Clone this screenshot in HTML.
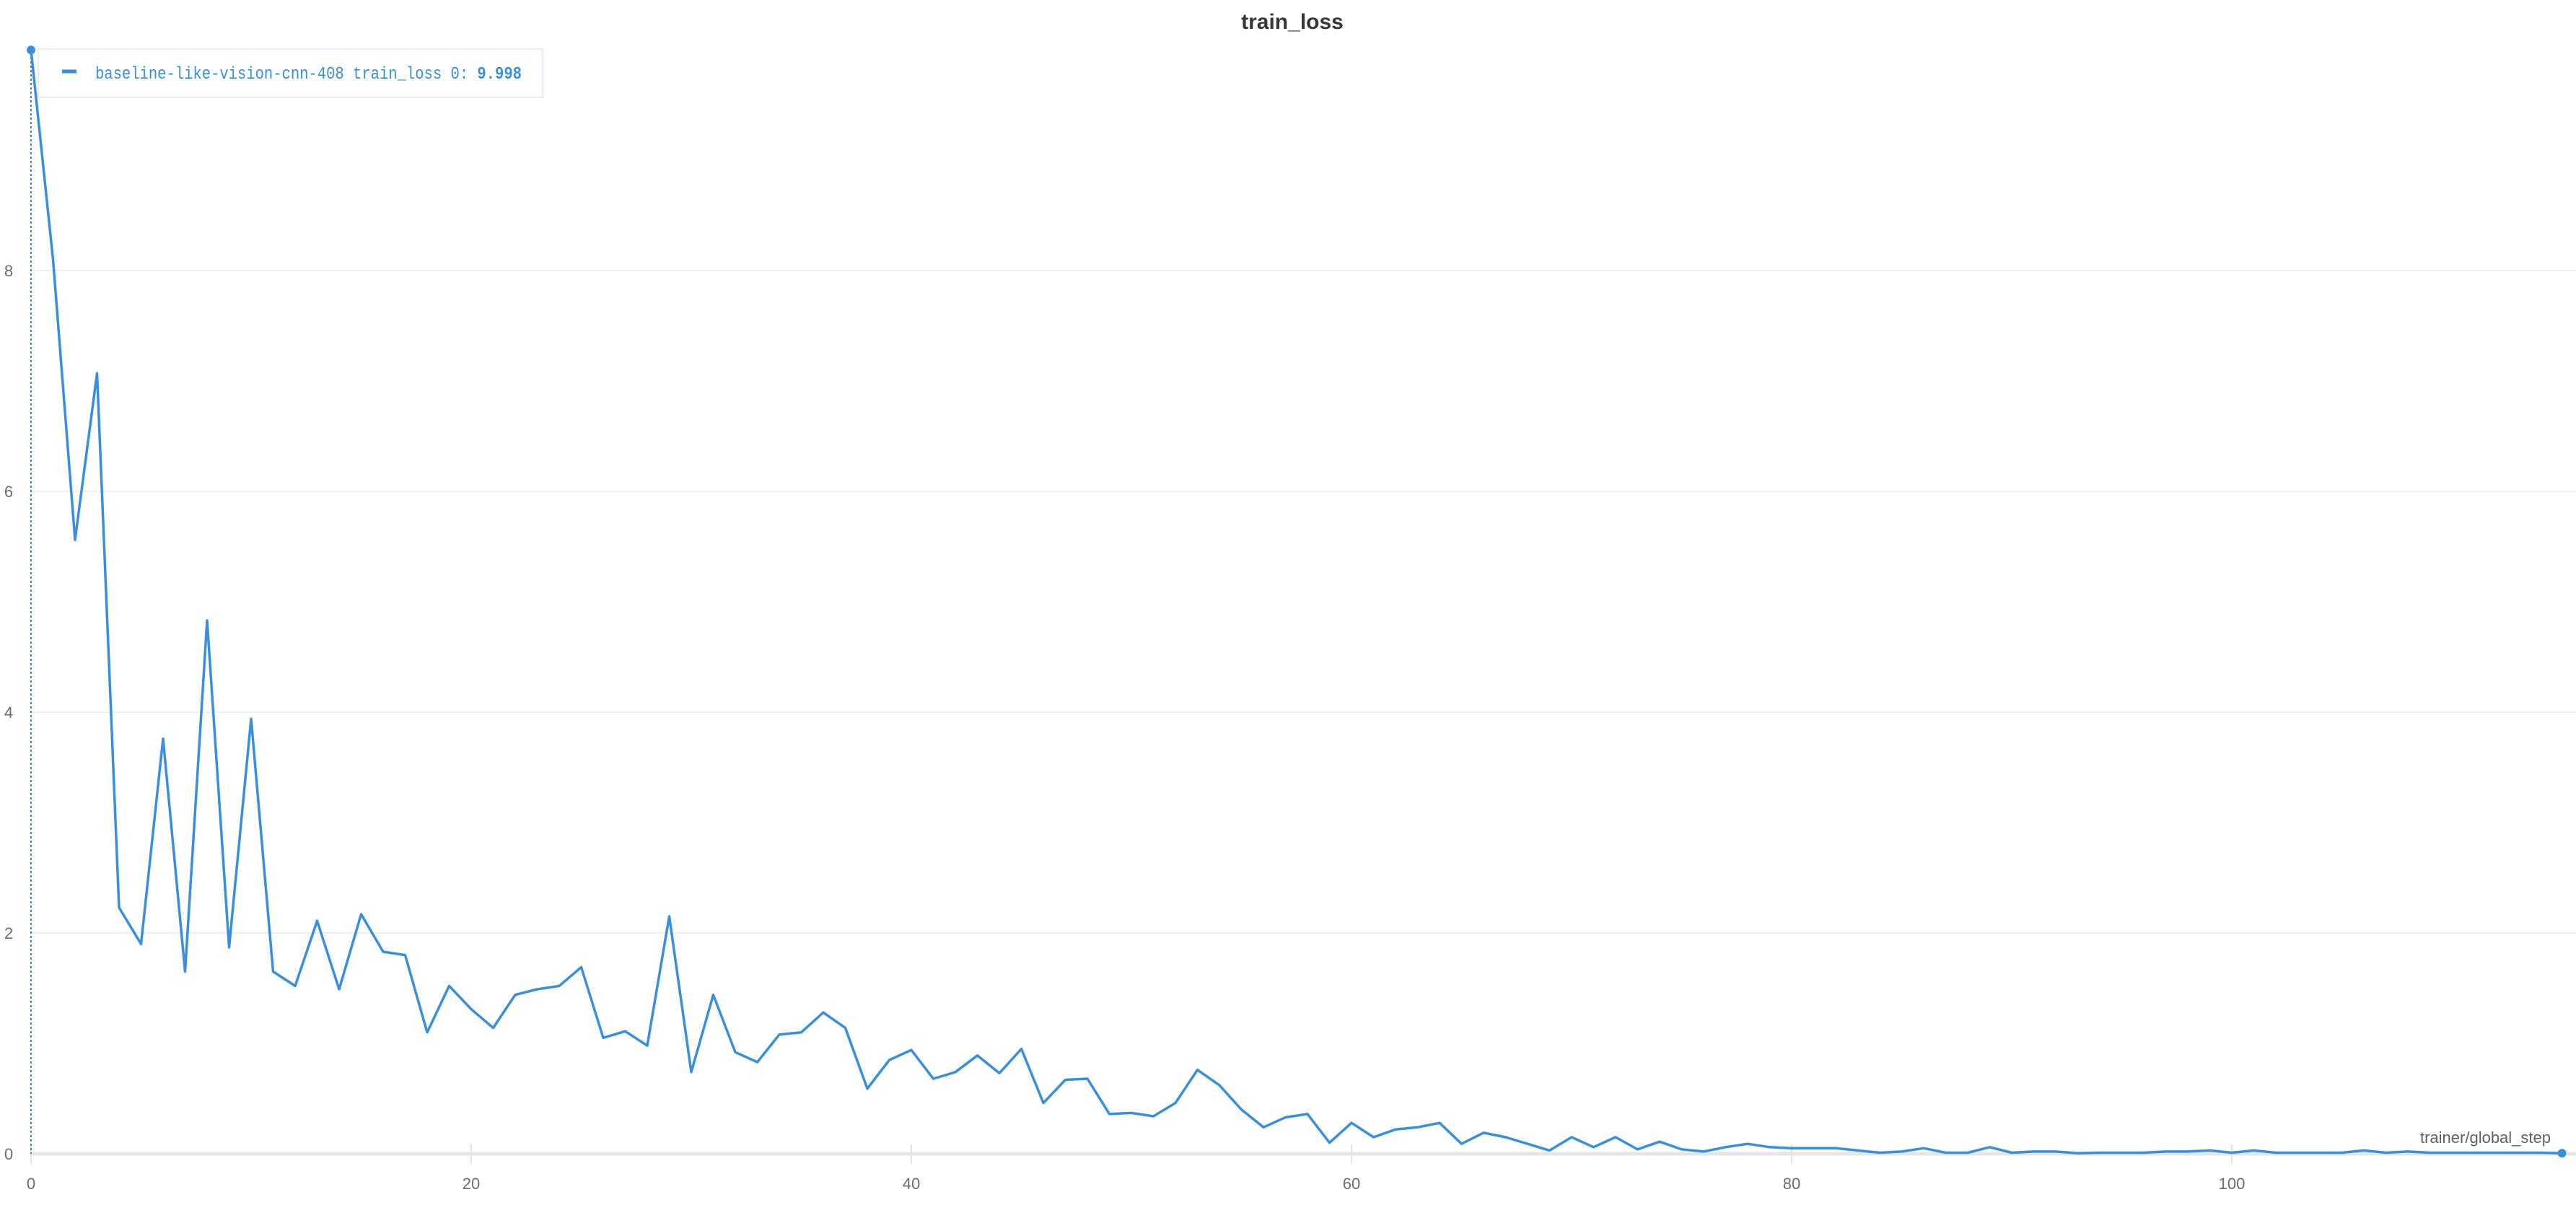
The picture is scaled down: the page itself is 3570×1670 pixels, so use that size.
<!DOCTYPE html>
<html><head><meta charset="utf-8"><style>
html,body{margin:0;padding:0;background:#fff;}
svg{display:block;}
</style></head><body>
<svg id="chart" width="3570" height="1670" xmlns="http://www.w3.org/2000/svg">
<text x="1791" y="40" text-anchor="middle" font-family="Liberation Sans, sans-serif" font-weight="bold" font-size="30" fill="#35363b">train_loss</text>
<g id="grid"></g>
<g id="ticks"></g>
<line x1="43" y1="67" x2="43" y2="1599" stroke="#2f86d8" stroke-width="2" stroke-dasharray="3,3"/>
<path id="series" fill="none" stroke="#378fdd" stroke-width="3.5" stroke-linejoin="round"/>
<g id="pts"></g>
<text x="3535" y="1584" text-anchor="end" font-family="Liberation Sans, sans-serif" font-size="22" fill="#5f5f6a">trainer/global_step</text>
<g>
<rect x="53" y="68" width="699" height="67" fill="#fff" stroke="#ebebeb" stroke-width="2"/>
<line x1="86" y1="99" x2="106" y2="99" stroke="#378fdd" stroke-width="5"/>
<text x="132" y="109" font-family="Liberation Mono, monospace" font-size="24" fill="#378fdd" textLength="591" lengthAdjust="spacingAndGlyphs">baseline-like-vision-cnn-408 train_loss 0: <tspan font-weight="bold">9.998</tspan></text>
</g>
</svg>
<script>
const steps = [];
const lossValues = [9.998,8.1,5.56,7.07,2.23,1.90,3.76,1.65,4.83,1.87,3.94,1.65,1.52,2.11,1.49,2.17,1.83,1.80,1.10,1.52,1.31,1.14,1.44,1.49,1.52,1.69,1.05,1.11,0.98,2.15,0.74,1.44,0.92,0.83,1.08,1.10,1.28,1.14,0.59,0.85,0.94,0.68,0.74,0.89,0.73,0.95,0.46,0.67,0.68,0.36,0.37,0.34,0.46,0.76,0.62,0.40,0.24,0.33,0.36,0.10,0.28,0.15,0.22,0.24,0.28,0.09,0.19,0.15,0.09,0.03,0.15,0.06,0.15,0.04,0.11,0.04,0.02,0.06,0.09,0.06,0.05,0.05,0.05,0.03,0.01,0.02,0.05,0.01,0.01,0.06,0.01,0.02,0.02,0.005,0.01,0.01,0.01,0.02,0.02,0.03,0.01,0.03,0.01,0.01,0.01,0.01,0.03,0.01,0.02,0.01,0.01,0.01,0.01,0.01,0.01,0.005];
for (let i = 0; i < lossValues.length; i++) steps.push(i);
const yTicks = [0,2,4,6,8];
const xTicks = [0,20,40,60,80,100];
const X = s => 43 + s * 30.5;
const Y = v => 1599 - v * 153;
const NS = "http://www.w3.org/2000/svg";
const grid = document.getElementById('grid');
const ticks = document.getElementById('ticks');
yTicks.forEach(t => {
  const l = document.createElementNS(NS, 'line');
  l.setAttribute('x1', 43); l.setAttribute('x2', 3570);
  l.setAttribute('y1', Y(t)); l.setAttribute('y2', Y(t));
  l.setAttribute('stroke', t === 0 ? '#e6e6e8' : '#ececec');
  l.setAttribute('stroke-width', t === 0 ? 5 : 1.5);
  
  
  grid.appendChild(l);
  const tx = document.createElementNS(NS, 'text');
  tx.setAttribute('x', 12); tx.setAttribute('y', Y(t) + 8);
  tx.setAttribute('text-anchor', 'middle');
  tx.setAttribute('font-family', 'Liberation Sans, sans-serif');
  tx.setAttribute('font-size', 22); tx.setAttribute('fill', '#6b6b76');
  
  
  tx.textContent = t;
  ticks.appendChild(tx);
});
xTicks.forEach(t => {
  const l = document.createElementNS(NS, 'line');
  l.setAttribute('x1', X(t)); l.setAttribute('x2', X(t));
  l.setAttribute('y1', 1586); l.setAttribute('y2', 1613);
  l.setAttribute('stroke', '#e4e4e4'); l.setAttribute('stroke-width', 2);
  
  
  ticks.appendChild(l);
  const tx = document.createElementNS(NS, 'text');
  tx.setAttribute('x', X(t)); tx.setAttribute('y', 1648);
  tx.setAttribute('text-anchor', 'middle');
  tx.setAttribute('font-family', 'Liberation Sans, sans-serif');
  tx.setAttribute('font-size', 22); tx.setAttribute('fill', '#6b6b76');
  
  
  tx.textContent = t;
  ticks.appendChild(tx);
});
document.getElementById('series').setAttribute('d',
  lossValues.map((v, i) => (i ? 'L' : 'M') + X(steps[i]).toFixed(1) + ',' + Y(v).toFixed(1)).join(' '));
const pts = document.getElementById('pts');
[0, lossValues.length - 1].forEach(i => {
  const c = document.createElementNS(NS, 'circle');
  c.setAttribute('cx', X(steps[i])); c.setAttribute('cy', Y(lossValues[i]));
  c.setAttribute('r', 6); c.setAttribute('fill', '#378fdd');
  
  
  pts.appendChild(c);
});
</script>
</body></html>
